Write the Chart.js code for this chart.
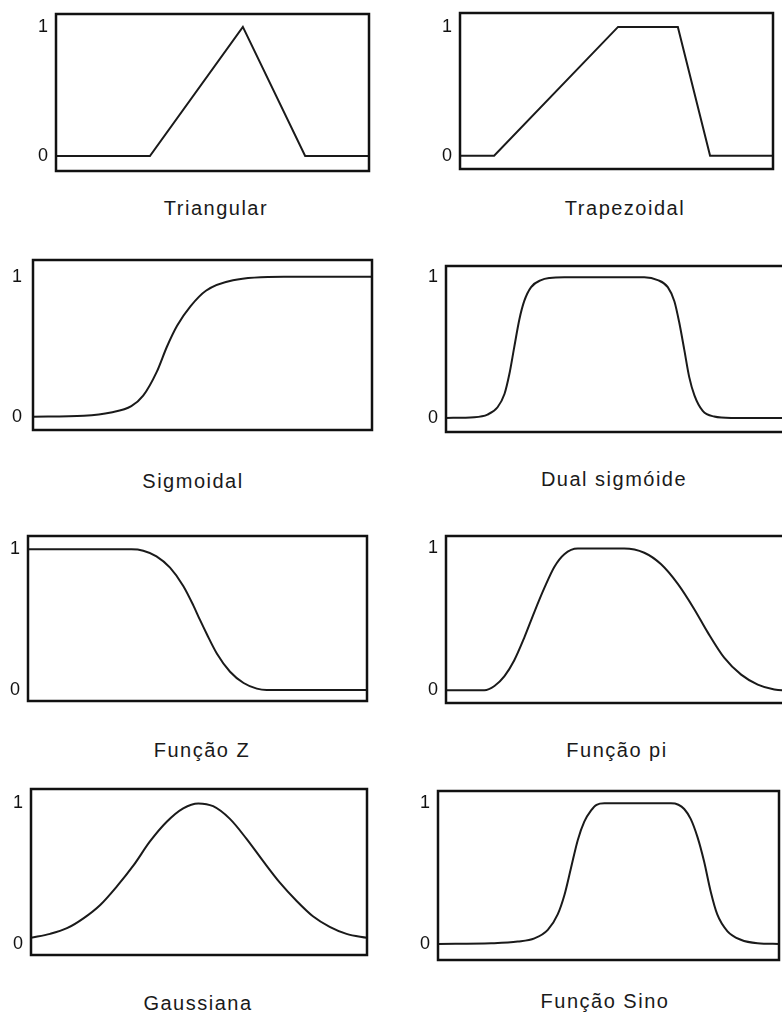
<!DOCTYPE html>
<html>
<head>
<meta charset="utf-8">
<script src="https://cdn.jsdelivr.net/npm/chart.js@4.4.0/dist/chart.umd.min.js"></script>
<style>
  html, body { margin: 0; padding: 0; background: #fff; }
  body { width: 782px; height: 1016px; position: relative; overflow: hidden; }
  canvas { position: absolute; }
  .caption {
    position: absolute;
    transform: translate(-50%, -50%);
    white-space: nowrap;
    font-family: "Liberation Sans", Arial, sans-serif;
    font-size: 20px;
    letter-spacing: 1.5px;
    color: #1a1a1a;
  }
</style>
</head>
<body>
<script>
// membership function shapes (x: 0..100 across each box)
const triX = [0, 30, 59.7, 79.6, 100];
const triY = [0, 0, 1, 0, 0];

const trapX = [0, 10.9, 50.5, 69.6, 79.9, 100];
const trapY = [0, 0, 1, 1, 0, 0];

const sigX = [0, 15, 23, 29, 32.5, 36.5, 39.5, 42.5, 46.5, 51, 59, 74, 100];
const sigY = [0, 0.007, 0.03, 0.075, 0.15, 0.32, 0.5, 0.65, 0.79, 0.9, 0.975, 1, 1];

const dualX = [0, 8.2, 12, 14.9, 16.9, 18.3, 19.7, 21.2, 22.6, 24.6, 27.5, 30, 34.2, 57.3, 61.2, 64.1, 66, 67.4, 68.9, 70.3, 71.8, 74.2, 77.5, 82.4, 100];
const dualY = [0, 0.005, 0.024, 0.076, 0.17, 0.31, 0.5, 0.7, 0.83, 0.93, 0.98, 0.995, 1, 1, 0.98, 0.93, 0.83, 0.68, 0.48, 0.29, 0.16, 0.05, 0.01, 0, 0];

const zX = [0, 30.5, 34, 37.9, 41.9, 45.8, 48.8, 50.7, 52.7, 55.7, 59.6, 63.6, 67.5, 70.4, 100];
const zY = [1, 1, 0.99, 0.95, 0.87, 0.74, 0.6, 0.5, 0.4, 0.26, 0.13, 0.05, 0.01, 0, 0];

const piX = [0, 11.1, 14, 16.9, 19.7, 22.6, 25.5, 28.4, 31.3, 34.2, 38.1, 51.5, 57.3, 62.1, 67, 71.8, 75.6, 80.4, 85.3, 90.1, 94.9, 97.1, 100];
const piY = [0, 0, 0.03, 0.1, 0.21, 0.37, 0.55, 0.72, 0.87, 0.96, 1, 1, 0.97, 0.89, 0.75, 0.57, 0.41, 0.23, 0.11, 0.04, 0.005, 0, 0];

const gaussX = [0, 5.7, 10.7, 15.6, 20.6, 25.5, 30.5, 35.4, 40.4, 45.3, 49.8, 54.2, 59.2, 64.1, 69.1, 74, 79, 83.9, 88.9, 93.9, 100];
const gaussY = [0.047, 0.075, 0.115, 0.185, 0.28, 0.41, 0.56, 0.73, 0.87, 0.965, 1, 0.98, 0.89, 0.75, 0.59, 0.44, 0.31, 0.2, 0.125, 0.075, 0.047];

const sinoX = [0, 15.6, 23.4, 28.3, 32.2, 35.1, 37.1, 39, 41, 42.9, 44.9, 46.5, 48.8, 68.3, 70.5, 72.2, 74.1, 76.1, 78, 80, 81.9, 84.9, 88.8, 93.7, 100];
const sinoY = [0, 0.005, 0.017, 0.04, 0.1, 0.21, 0.35, 0.54, 0.74, 0.87, 0.95, 0.99, 1, 1, 0.99, 0.96, 0.89, 0.76, 0.59, 0.37, 0.21, 0.09, 0.03, 0.005, 0];

const yTicks = [0, 1];

// box = plot frame in page pixels, cap = caption centre
const panels = [
  { title: "Triangular",    xs: triX,   ys: triY,   smooth: false, box: [56, 14, 369, 171],  yMin: -0.116, yMax: 1.1,   cap: [216, 208] },
  { title: "Trapezoidal",   xs: trapX,  ys: trapY,  smooth: false, box: [460, 13, 773, 169], yMin: -0.103, yMax: 1.108, cap: [625, 208] },
  { title: "Sigmoidal",     xs: sigX,   ys: sigY,   smooth: true,  box: [33, 260, 372, 430], yMin: -0.095, yMax: 1.12,  cap: [193, 481], pad: 11 },
  { title: "Dual sigmóide", xs: dualX,  ys: dualY,  smooth: true,  box: [446, 266, 792, 432], yMin: -0.1,  yMax: 1.08,  cap: [614, 479] },
  { title: "Função Z",      xs: zX,     ys: zY,     smooth: true,  box: [28, 536, 367, 701], yMin: -0.078, yMax: 1.095, cap: [202, 750] },
  { title: "Função pi",     xs: piX,    ys: piY,    smooth: true,  box: [446, 536, 792, 703], yMin: -0.09, yMax: 1.088, cap: [617, 750] },
  { title: "Gaussiana",     xs: gaussX, ys: gaussY, smooth: true,  box: [31, 789, 367, 955], yMin: -0.075, yMax: 1.102, cap: [198, 1003] },
  { title: "Função Sino",   xs: sinoX,  ys: sinoY,  smooth: true,  box: [438, 791, 779, 960], yMin: -0.114, yMax: 1.088, cap: [605, 1001] },
];

const AXIS_W = 28;
const EDGE = 2;

// draws the black frame around the plot area
const frame = {
  id: "frame",
  afterDraw(chart) {
    const { ctx, chartArea: a } = chart;
    ctx.save();
    ctx.strokeStyle = "#111";
    ctx.lineWidth = 2.5;
    ctx.strokeRect(a.left, a.top, a.right - a.left, a.bottom - a.top);
    ctx.restore();
  }
};

panels.forEach(p => {
  const [l, t, r, b] = p.box;
  const canvas = document.createElement("canvas");
  canvas.width = AXIS_W + (r - l) + EDGE;
  canvas.height = (b - t) + EDGE * 2;
  canvas.style.left = (l - AXIS_W) + "px";
  canvas.style.top = (t - EDGE) + "px";
  document.body.appendChild(canvas);

  new Chart(canvas, {
    type: "line",
    data: {
      datasets: [{
        data: p.xs.map((x, i) => ({ x: x, y: p.ys[i] })),
        borderColor: "#1a1a1a",
        borderWidth: 2,
        pointRadius: 0,
        fill: false,
        cubicInterpolationMode: p.smooth ? "monotone" : "default",
        tension: 0,
      }]
    },
    options: {
      responsive: false,
      devicePixelRatio: 1,
      animation: false,
      layout: { autoPadding: false, padding: { top: EDGE, right: EDGE, bottom: EDGE, left: 0 } },
      plugins: { legend: { display: false }, tooltip: { enabled: false } },
      scales: {
        x: { type: "linear", min: 0, max: 100, display: false },
        y: {
          min: p.yMin,
          max: p.yMax,
          grid: { display: false, drawTicks: false },
          border: { display: false },
          afterBuildTicks: s => { s.ticks = yTicks.map(v => ({ value: v })); },
          afterFit: s => {
            s.width = AXIS_W;
            s.paddingTop = 0;
            s.paddingBottom = 0;
          },
          ticks: {
            padding: p.pad || 8,
            color: "#111",
            font: { family: "Liberation Sans", size: 18 },
            callback: v => String(v),
          }
        }
      }
    },
    plugins: [frame]
  });

  const cap = document.createElement("div");
  cap.className = "caption";
  cap.textContent = p.title;
  cap.style.left = p.cap[0] + "px";
  cap.style.top = p.cap[1] + "px";
  document.body.appendChild(cap);
});
</script>
</body>
</html>
